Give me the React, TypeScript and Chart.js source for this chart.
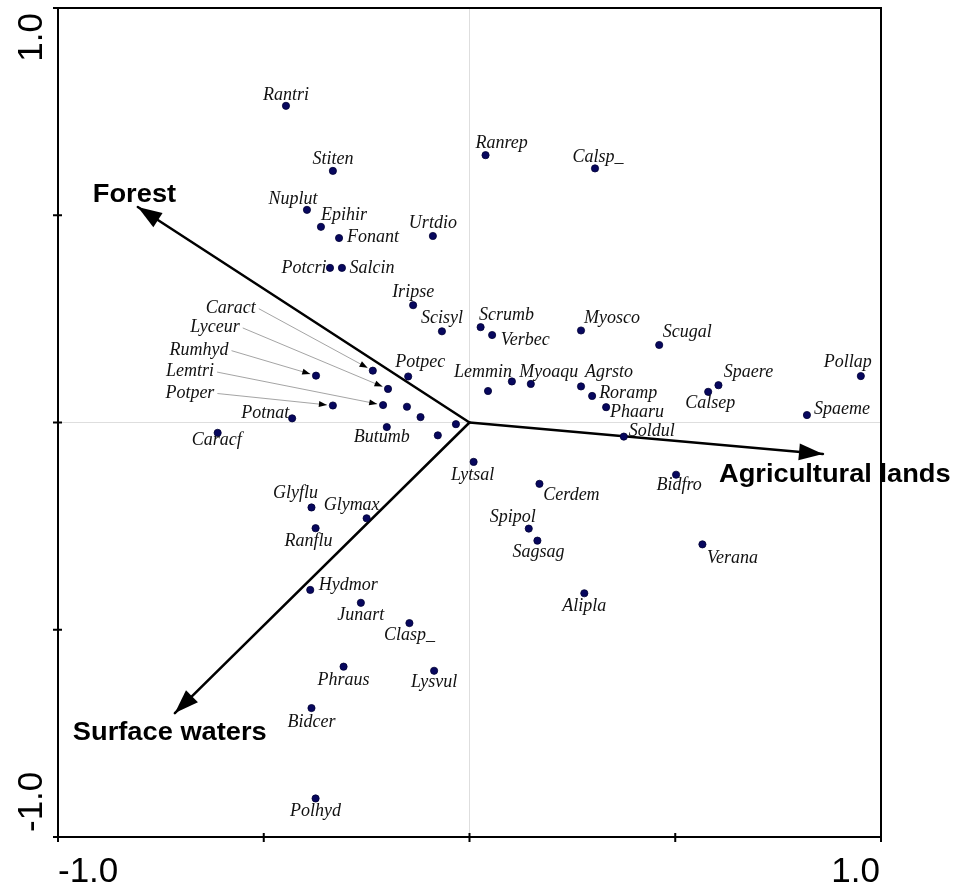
import React, { useEffect, useRef } from 'react';
import { Chart, registerables } from 'chart.js';

Chart.register(...registerables);

// ---------- data ----------
const speciesNames = [
  'Rantri', 'Stiten', 'Nuplut', 'Epihir', 'Fonant', 'Urtdio', 'Potcri', 'Salcin',
  'Ranrep', 'Calsp_', 'Iripse', 'Scisyl', 'Scrumb', 'Verbec', 'Myosco', 'Scugal',
  'Pollap', 'Spaere', 'Calsep', 'Spaeme', 'Lemmin', '', 'Myoaqu', 'Agrsto',
  'Roramp', 'Phaaru', 'Soldul', 'Potpec', 'Caract', 'Lyceur', 'Rumhyd', 'Lemtri',
  'Potper', '', '', 'Butumb', '', '', 'Potnat', 'Caracf',
  'Lytsal', 'Glyflu', 'Glymax', 'Ranflu', 'Hydmor', 'Junart', 'Clasp_', 'Phraus',
  'Lysvul', 'Bidcer', 'Polhyd', 'Cerdem', 'Bidfro', 'Spipol', 'Sagsag', 'Verana',
  'Alipla',
];
const speciesX = [
  -0.446, -0.332, -0.395, -0.361, -0.317, -0.089, -0.339, -0.310,
  0.039, 0.305, -0.137, -0.067, 0.027, 0.055, 0.271, 0.461,
  0.951, 0.605, 0.580, 0.820, 0.045, 0.103, 0.149, 0.271,
  0.298, 0.332, 0.375, -0.149, -0.235, -0.198, -0.373, -0.210,
  -0.332, -0.152, -0.119, -0.201, -0.077, -0.033, -0.431, -0.612,
  0.010, -0.384, -0.250, -0.374, -0.387, -0.264, -0.146, -0.306,
  -0.086, -0.384, -0.374, 0.170, 0.502, 0.144, 0.165, 0.566,
  0.279,
];
const speciesY = [
  0.764, 0.607, 0.513, 0.472, 0.445, 0.450, 0.373, 0.373,
  0.645, 0.613, 0.283, 0.220, 0.230, 0.211, 0.222, 0.187,
  0.112, 0.090, 0.074, 0.018, 0.076, 0.099, 0.093, 0.087,
  0.064, 0.037, -0.034, 0.111, 0.125, 0.081, 0.113, 0.042,
  0.041, 0.038, 0.013, -0.011, -0.031, -0.004, 0.010, -0.025,
  -0.095, -0.205, -0.231, -0.255, -0.404, -0.435, -0.484, -0.589,
  -0.599, -0.689, -0.907, -0.148, -0.126, -0.256, -0.285, -0.294,
  -0.412,
];

const envNames = ['Forest', 'Agricultural lands', 'Surface waters'];
const envX = [-0.806, 0.859, -0.716];
const envY = [0.52, -0.076, -0.701];

const tickValues = [-1, -0.5, 0, 0.5, 1];
const xTickLabels = ['-1.0', '', '', '', '1.0'];
const yTickLabels = ['-1.0', '', '', '', '1.0'];

// ---------- layout (label placement, px offsets from the point) ----------
const labelOffsets: Record<string, [number, number]> = {
  Rantri: [0, -6], Stiten: [0, -7], Nuplut: [-14, -6], Epihir: [23, -7],
  Fonant: [34, 4], Urtdio: [0, -8], Potcri: [-26, 5], Salcin: [30, 5],
  Ranrep: [16, -7], Calsp_: [3, -6], Iripse: [0, -8], Scisyl: [0, -8],
  Scrumb: [26, -7], Verbec: [33, 10], Myosco: [31, -7], Scugal: [28, -8],
  Pollap: [-13, -9], Spaere: [30, -8], Calsep: [2, 16], Spaeme: [35, -1],
  Lemmin: [-5, -14], Myoaqu: [18, -7], Agrsto: [28, -9], Roramp: [36, 2],
  Phaaru: [31, 10], Soldul: [28, -1], Potpec: [12, -9], Potnat: [-27, 0],
  Caracf: [-1, 12], Butumb: [-5, 15], Lytsal: [-1, 18], Cerdem: [32, 16],
  Bidfro: [3, 15], Spipol: [-16, -7], Sagsag: [1, 16], Verana: [30, 19],
  Alipla: [0, 18], Glyflu: [-16, -9], Glymax: [-15, -8], Ranflu: [-7, 18],
  Hydmor: [38, 0], Junart: [0, 17], Clasp_: [0, 17], Phraus: [0, 18],
  Lysvul: [0, 16], Bidcer: [0, 19], Polhyd: [0, 18],
  Caract: [-142, -58], Lyceur: [-173, -57], Rumhyd: [-117, -21],
  Lemtri: [-193, -29], Potper: [-143, -8],
};
const leaderNames = ['Caract', 'Lyceur', 'Rumhyd', 'Lemtri', 'Potper'];
const envLabelOffsets: [number, number][] = [[-45, -5], [-104, 28], [-102, 27]];

const SPECIES_FONT = 'italic 18px "Liberation Serif", "Times New Roman", serif';
const ENV_FONT = 'bold 25px "Liberation Sans", Arial, sans-serif';
const TICK_FONT = '35px "Liberation Sans", Arial, sans-serif';

function arrowHead(ctx: CanvasRenderingContext2D, tx: number, ty: number, ang: number, L: number, W: number) {
  const c = Math.cos(ang), s = Math.sin(ang);
  ctx.beginPath();
  ctx.moveTo(tx, ty);
  ctx.lineTo(tx - L * c + W * s, ty - L * s - W * c);
  ctx.lineTo(tx - L * c - W * s, ty - L * s + W * c);
  ctx.closePath();
  ctx.fill();
}

const overlayPlugin = {
  id: 'overlay',
  afterDatasetsDraw(chart: any) {
    const ctx: CanvasRenderingContext2D = chart.ctx;
    const xs = chart.scales.x, ys = chart.scales.y;
    const ox = xs.getPixelForValue(0), oy = ys.getPixelForValue(0);
    ctx.save();
    // environmental arrows: heads and labels
    ctx.fillStyle = '#000';
    envNames.forEach((name, i) => {
      const tx = xs.getPixelForValue(envX[i]);
      const ty = ys.getPixelForValue(envY[i]);
      const ang = Math.atan2(ty - oy, tx - ox);
      arrowHead(ctx, tx, ty, ang, 24, 8.5);
      const [dx, dy] = envLabelOffsets[i];
      ctx.save();
      ctx.font = ENV_FONT;
      ctx.textAlign = 'left';
      ctx.textBaseline = 'alphabetic';
      ctx.translate(tx + dx, ty + dy);
      ctx.scale(1.09, 1);
      ctx.fillText(name, 0, 0);
      ctx.restore();
    });
    // species labels
    const meta = chart.getDatasetMeta(0);
    ctx.font = SPECIES_FONT;
    ctx.textAlign = 'center';
    ctx.textBaseline = 'alphabetic';
    speciesNames.forEach((name, i) => {
      if (!name) return;
      const el = meta.data[i];
      const off = labelOffsets[name] || [0, -7];
      const lx = el.x + off[0];
      const ly = el.y + off[1];
      ctx.fillStyle = '#111';
      ctx.fillText(name, lx, ly);
      if (leaderNames.includes(name)) {
        const w = ctx.measureText(name).width;
        const sx = lx + w / 2 + 3;
        const sy = ly - 4;
        const ang = Math.atan2(el.y - sy, el.x - sx);
        const ex = el.x - Math.cos(ang) * 6;
        const ey = el.y - Math.sin(ang) * 6;
        ctx.strokeStyle = '#9a9a9a';
        ctx.lineWidth = 0.9;
        ctx.beginPath();
        ctx.moveTo(sx, sy);
        ctx.lineTo(ex, ey);
        ctx.stroke();
        ctx.fillStyle = '#000';
        arrowHead(ctx, ex, ey, ang, 8, 3);
      }
    });
    ctx.restore();
  },
  afterDraw(chart: any) {
    const ctx: CanvasRenderingContext2D = chart.ctx;
    const { left, right, top, bottom } = chart.chartArea;
    const xs = chart.scales.x, ys = chart.scales.y;
    ctx.save();
    ctx.strokeStyle = '#000';
    ctx.lineWidth = 2;
    ctx.strokeRect(left, top, right - left, bottom - top);
    ctx.beginPath();
    tickValues.forEach((v) => {
      const px = xs.getPixelForValue(v);
      ctx.moveTo(px, bottom - 4);
      ctx.lineTo(px, bottom + 5);
      const py = ys.getPixelForValue(v);
      ctx.moveTo(left - 5, py);
      ctx.lineTo(left + 4, py);
    });
    ctx.stroke();
    ctx.fillStyle = '#000';
    ctx.font = TICK_FONT;
    ctx.textBaseline = 'alphabetic';
    // x tick labels (inner aligned)
    tickValues.forEach((v, i) => {
      const t = xTickLabels[i];
      if (!t) return;
      const px = xs.getPixelForValue(v);
      ctx.textAlign = v < 0 ? 'left' : 'right';
      ctx.fillText(t, v < 0 ? px : px - 1, bottom + 45);
    });
    // y tick labels (rotated, inner aligned)
    tickValues.forEach((v, i) => {
      const t = yTickLabels[i];
      if (!t) return;
      const py = ys.getPixelForValue(v);
      ctx.save();
      ctx.translate(left - 16, v > 0 ? py + 5 : py - 5);
      ctx.rotate(-Math.PI / 2);
      ctx.textAlign = v > 0 ? 'right' : 'left';
      ctx.fillText(t, 0, 0);
      ctx.restore();
    });
    ctx.restore();
  },
};

export default function App() {
  const canvasRef = useRef<HTMLCanvasElement | null>(null);

  useEffect(() => {
    const canvas = canvasRef.current;
    if (!canvas) return;
    const speciesData = speciesX.map((x, i) => ({ x, y: speciesY[i] }));
    const envDatasets = envNames.map((name, i) => ({
      type: 'line' as const,
      label: name,
      data: [{ x: 0, y: 0 }, { x: envX[i], y: envY[i] }],
      borderColor: '#000',
      borderWidth: 2.5,
      pointRadius: 0,
      showLine: true,
      fill: false,
      tension: 0,
      borderCapStyle: 'round' as const,
    }));
    const gridColor = (c: any) => (c.tick && c.tick.value === 0 ? '#dedede' : 'rgba(0,0,0,0)');
    const chart = new Chart(canvas, {
      type: 'scatter',
      data: {
        datasets: [
          {
            label: 'Species',
            data: speciesData,
            pointRadius: 3.6,
            pointBackgroundColor: '#07075e',
            pointBorderColor: '#000033',
            pointBorderWidth: 0.8,
            showLine: false,
          } as any,
          ...envDatasets,
        ],
      },
      options: {
        animation: false,
        responsive: false,
        devicePixelRatio: 1,
        events: [],
        layout: { padding: { left: 58, right: 74, top: 8, bottom: 47 } },
        plugins: { legend: { display: false }, tooltip: { enabled: false } },
        scales: {
          x: {
            type: 'linear',
            min: -1,
            max: 1,
            ticks: { display: false, stepSize: 0.5 },
            grid: { color: gridColor, drawTicks: false, lineWidth: 1 },
            border: { display: false },
          },
          y: {
            type: 'linear',
            min: -1,
            max: 1,
            ticks: { display: false, stepSize: 0.5 },
            grid: { color: gridColor, drawTicks: false, lineWidth: 1 },
            border: { display: false },
          },
        },
      },
      plugins: [overlayPlugin],
    });
    return () => chart.destroy();
  }, []);

  return (
    <div style={{ position: 'fixed', left: 0, top: 0, width: 955, height: 884, background: '#fff' }}>
      <canvas ref={canvasRef} width={955} height={884} style={{ display: 'block', width: 955, height: 884 }} />
    </div>
  );
}
